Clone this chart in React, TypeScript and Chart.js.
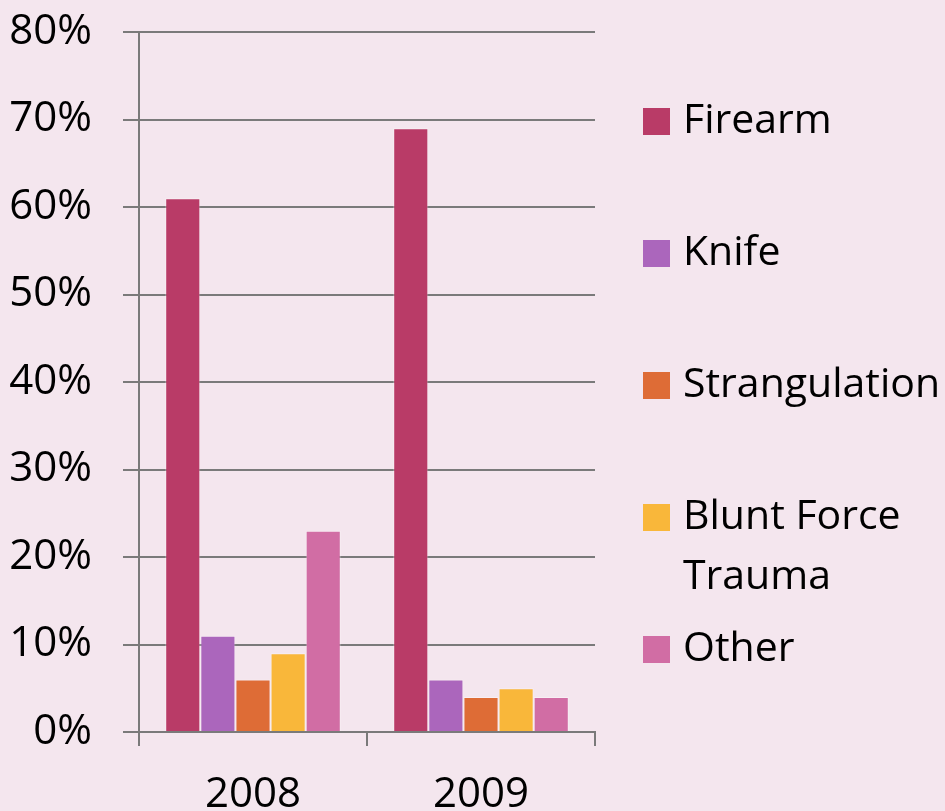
import React, { useEffect, useRef } from "react";
import { Chart, registerables } from "chart.js";

Chart.register(...registerables);

const categories = ["2008", "2009"];
const seriesNames = ["Firearm", "Knife", "Strangulation", "Blunt Force Trauma", "Other"];
const legendLines = [["Firearm"], ["Knife"], ["Strangulation"], ["Blunt Force", "Trauma"], ["Other"]];
const firearm = [61, 69];
const knife = [11, 6];
const strangulation = [6, 4];
const bluntForce = [9, 5];
const other = [23, 4];
const colors = ["#B93B67", "#AB66BC", "#DE6C36", "#F9B73A", "#D16DA4"];
const yTicks = [0, 10, 20, 30, 40, 50, 60, 70, 80];

const FONT = "'Open Sans', 'DejaVu Sans', sans-serif";
const GRID = "#7a7a7a";

const legendPlugin = {
  id: "sideLegend",
  afterDraw(chart: any) {
    const ctx = chart.ctx;
    ctx.save();
    ctx.font = `41px ${FONT}`;
    ctx.textBaseline = "middle";
    ctx.textAlign = "left";
    let y = 121;
    legendLines.forEach((lines, i) => {
      ctx.fillStyle = colors[i];
      ctx.fillRect(643, y - 13, 27, 27);
      ctx.fillStyle = "#000";
      lines.forEach((t, j) => ctx.fillText(t, 683, y + j * 60));
      y += 132;
    });
    ctx.restore();
  },
};

export default function App() {
  const ref = useRef<HTMLCanvasElement>(null);
  useEffect(() => {
    document.body.style.margin = "0";
    document.body.style.background = "#F4E6EE";
    const values = [firearm, knife, strangulation, bluntForce, other];
    const chart = new Chart(ref.current!, {
      type: "bar",
      data: {
        labels: categories,
        datasets: seriesNames.map((name, i) => ({
          label: name,
          data: values[i],
          backgroundColor: colors[i],
          borderColor: "rgba(255,255,255,0.35)",
          borderWidth: 1,
          categoryPercentage: 0.77,
          barPercentage: 1,
        })),
      },
      options: {
        responsive: false,
        animation: false,
        devicePixelRatio: 1,
        layout: { padding: { left: 0, right: 350, top: 32, bottom: 0 } },
        plugins: { legend: { display: false }, tooltip: { enabled: false } },
        scales: {
          x: {
            grid: {
              offset: true,
              drawOnChartArea: false,
              drawTicks: true,
              tickLength: 14,
              color: GRID,
              lineWidth: 2,
            },
            border: { display: true, color: GRID, width: 2 },
            ticks: { color: "#000", font: { family: FONT, size: 42 }, padding: 24 },
            afterFit: (s: any) => {
              s.height = 79;
              s.paddingLeft = 0;
              s.paddingRight = 0;
            },
          },
          y: {
            min: 0,
            max: 80,
            afterBuildTicks: (s: any) => {
              s.ticks = yTicks.map((v) => ({ value: v }));
            },
            grid: { color: GRID, lineWidth: 2, tickLength: 16, drawTicks: true },
            border: { display: true, color: GRID, width: 2 },
            ticks: {
              color: "#000",
              font: { family: FONT, size: 42 },
              padding: 31,
              callback: (v: any) => `${v}%`,
            },
            afterFit: (s: any) => {
              s.width = 139;
              s.paddingTop = 0;
              s.paddingBottom = 0;
            },
          },
        },
      },
      plugins: [legendPlugin],
    });
    return () => chart.destroy();
  }, []);
  return (
    <div style={{ background: "#F4E6EE", width: 945, height: 811 }}>
      <canvas ref={ref} width={945} height={811} style={{ display: "block" }} />
    </div>
  );
}
